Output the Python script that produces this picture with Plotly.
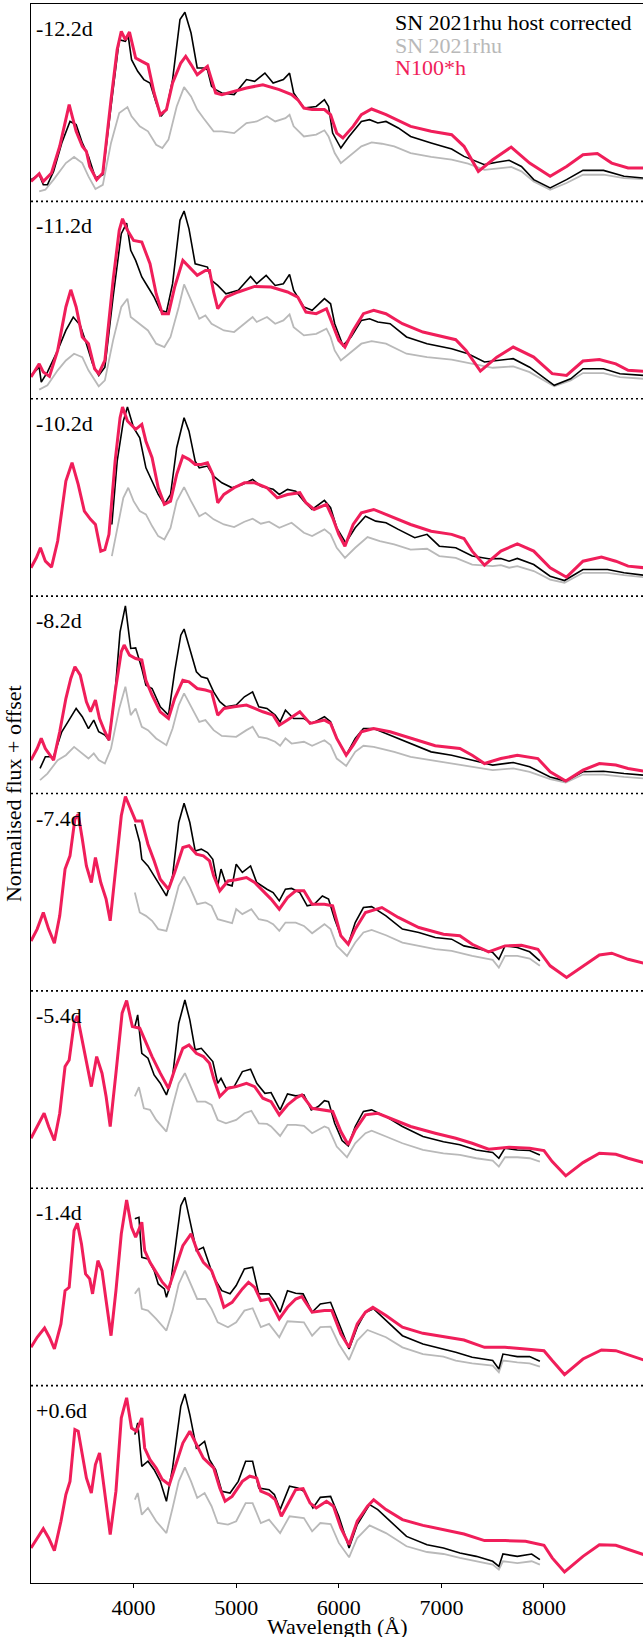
import plotly.graph_objects as go

# ---------------- data (wavelength in Angstrom, normalised flux per panel) ----------------
PHASES = ["-12.2d", "-11.2d", "-10.2d", "-8.2d", "-7.4d", "-5.4d", "-1.4d", "+0.6d"]
OFFSETS = [7, 6, 5, 4, 3, 2, 1, 0]
XTICKS = [4000, 5000, 6000, 7000, 8000]
LEGEND_LABELS = ["SN 2021rhu host corrected", "SN 2021rhu", "N100*h"]

# ---- panel 1 : -12.2d
P1_MODEL_W = [3000,3080,3120,3200,3280,3372,3440,3500,3540,3572,3640,3700,3780,3840,3880,3920,3960,4020,4080,4140,4200,4260,4320,4380,4460,4508,4560,4620,4680,4720,4760,4800,4860,4980,5100,5260,5420,5540,5600,5660,5740,5860,5920,5980,6040,6140,6220,6320,6460,6700,6900,7100,7220,7360,7500,7680,7860,8060,8220,8380,8520,8660,8820,8972]
P1_MODEL_F = [0.101,0.140,0.101,0.144,0.279,0.490,0.355,0.279,0.253,0.177,0.110,0.144,0.515,0.769,0.861,0.819,0.858,0.726,0.709,0.693,0.549,0.439,0.465,0.600,0.701,0.735,0.693,0.642,0.667,0.684,0.617,0.549,0.541,0.557,0.574,0.591,0.566,0.541,0.515,0.473,0.465,0.465,0.439,0.346,0.321,0.380,0.439,0.468,0.439,0.380,0.355,0.338,0.279,0.152,0.211,0.275,0.194,0.127,0.177,0.236,0.242,0.194,0.169,0.169]
P1_HOST_W = [3000,3080,3120,3160,3220,3300,3380,3440,3500,3560,3628,3700,3780,3860,3920,3948,3980,4040,4100,4160,4220,4268,4320,4380,4452,4500,4560,4620,4680,4720,4760,4800,4860,4980,5100,5180,5280,5360,5460,5520,5560,5660,5780,5860,5900,5940,6020,6100,6220,6300,6380,6460,6580,6700,6900,7100,7220,7420,7540,7660,7780,7900,8060,8220,8380,8580,8780,8972]
P1_HOST_F = [0.110,0.135,0.084,0.084,0.152,0.296,0.405,0.389,0.296,0.228,0.118,0.135,0.481,0.819,0.811,0.836,0.718,0.659,0.617,0.600,0.498,0.431,0.465,0.617,0.921,0.958,0.853,0.676,0.676,0.667,0.583,0.566,0.549,0.541,0.617,0.608,0.650,0.600,0.617,0.650,0.549,0.473,0.481,0.515,0.481,0.346,0.270,0.329,0.405,0.414,0.397,0.405,0.372,0.329,0.296,0.265,0.228,0.186,0.198,0.208,0.177,0.110,0.068,0.110,0.157,0.157,0.127,0.118]
P1_RAW_W = [3080,3140,3220,3340,3420,3500,3560,3628,3700,3780,3860,3940,3980,4060,4140,4220,4280,4340,4420,4492,4560,4620,4680,4780,4860,4980,5100,5200,5300,5380,5480,5520,5560,5660,5780,5860,5900,5960,6020,6100,6220,6320,6420,6540,6700,6900,7100,7260,7420,7580,7680,7780,7900,8060,8220,8380,8580,8780,8972]
P1_RAW_F = [0.051,0.059,0.110,0.194,0.225,0.194,0.127,0.063,0.084,0.296,0.448,0.478,0.431,0.380,0.355,0.287,0.270,0.313,0.481,0.579,0.532,0.465,0.422,0.355,0.355,0.346,0.397,0.405,0.431,0.405,0.422,0.439,0.380,0.329,0.338,0.360,0.329,0.245,0.194,0.228,0.279,0.299,0.292,0.279,0.245,0.225,0.211,0.191,0.160,0.169,0.174,0.152,0.101,0.059,0.093,0.135,0.135,0.118,0.113]

# ---- panel 2 : -11.2d
P2_MODEL_W = [3000,3080,3120,3180,3260,3340,3388,3440,3500,3560,3620,3660,3720,3800,3860,3892,3940,4000,4080,4160,4220,4280,4340,4400,4480,4540,4620,4700,4740,4780,4820,4900,5020,5180,5340,5500,5600,5680,5780,5880,5940,6000,6060,6140,6240,6340,6460,6620,6820,7020,7140,7240,7380,7540,7700,7900,8080,8220,8380,8540,8700,8820,8972]
P2_MODEL_F = [0.110,0.177,0.135,0.113,0.245,0.465,0.552,0.465,0.313,0.279,0.152,0.127,0.194,0.600,0.853,0.912,0.853,0.802,0.794,0.684,0.532,0.431,0.431,0.566,0.701,0.667,0.625,0.650,0.650,0.541,0.456,0.515,0.541,0.569,0.566,0.541,0.515,0.439,0.431,0.456,0.380,0.296,0.262,0.346,0.431,0.448,0.431,0.380,0.338,0.313,0.299,0.245,0.140,0.211,0.262,0.211,0.127,0.118,0.191,0.199,0.177,0.144,0.139]
P2_HOST_W = [3000,3080,3100,3160,3260,3340,3412,3480,3540,3600,3660,3720,3800,3880,3932,3972,4020,4080,4140,4200,4260,4320,4380,4452,4492,4540,4600,4660,4720,4760,4820,4900,5020,5140,5200,5292,5380,5460,5520,5560,5660,5740,5860,5920,5960,6040,6120,6220,6300,6380,6500,6660,6860,7100,7260,7420,7540,7700,7860,8100,8260,8380,8580,8740,8972]
P2_HOST_F = [0.118,0.160,0.084,0.135,0.245,0.346,0.414,0.372,0.279,0.177,0.118,0.160,0.515,0.836,0.890,0.752,0.701,0.617,0.566,0.515,0.448,0.439,0.583,0.904,0.951,0.861,0.684,0.676,0.667,0.600,0.574,0.532,0.549,0.620,0.583,0.625,0.574,0.583,0.630,0.549,0.465,0.448,0.507,0.481,0.380,0.270,0.313,0.397,0.405,0.389,0.380,0.313,0.279,0.253,0.228,0.186,0.194,0.203,0.160,0.068,0.101,0.152,0.152,0.127,0.118]
P2_RAW_W = [3080,3160,3260,3340,3420,3500,3560,3660,3720,3800,3880,3940,3972,4060,4140,4220,4300,4360,4440,4492,4560,4640,4700,4760,4880,4980,5100,5160,5200,5300,5380,5460,5520,5560,5660,5780,5880,5920,5960,6020,6100,6220,6320,6460,6660,6860,7100,7300,7500,7700,7860,8100,8260,8380,8580,8740,8972]
P2_RAW_F = [0.046,0.068,0.144,0.194,0.228,0.211,0.144,0.063,0.093,0.296,0.465,0.507,0.414,0.380,0.346,0.279,0.262,0.313,0.465,0.579,0.498,0.405,0.422,0.380,0.346,0.338,0.389,0.414,0.389,0.414,0.380,0.397,0.427,0.363,0.321,0.329,0.355,0.313,0.245,0.194,0.228,0.279,0.292,0.279,0.228,0.211,0.198,0.177,0.157,0.164,0.135,0.063,0.093,0.130,0.130,0.110,0.101]

# ---- panel 3 : -10.2d
P3_MODEL_W = [3000,3052,3092,3140,3200,3260,3340,3400,3460,3520,3580,3628,3680,3720,3760,3820,3868,3892,3940,4020,4080,4120,4180,4240,4300,4360,4420,4480,4540,4600,4660,4720,4772,4820,4880,4980,5080,5180,5300,5400,5500,5620,5680,5760,5880,5940,6000,6060,6140,6220,6340,6500,6700,6900,7100,7220,7300,7420,7580,7740,7900,8060,8220,8380,8560,8700,8820,8972]
P3_MODEL_F = [0.144,0.194,0.245,0.177,0.147,0.279,0.583,0.676,0.566,0.431,0.389,0.363,0.228,0.236,0.313,0.684,0.904,0.958,0.887,0.845,0.870,0.785,0.701,0.549,0.465,0.481,0.617,0.709,0.693,0.667,0.667,0.676,0.617,0.473,0.515,0.549,0.574,0.574,0.549,0.498,0.515,0.524,0.473,0.439,0.465,0.397,0.313,0.253,0.363,0.422,0.439,0.405,0.363,0.329,0.313,0.292,0.228,0.157,0.228,0.265,0.228,0.144,0.096,0.177,0.198,0.177,0.152,0.144]
P3_HOST_W = [3788,3840,3900,3940,4000,4060,4120,4180,4240,4300,4360,4420,4492,4540,4600,4640,4720,4780,4860,4960,5060,5160,5240,5360,5420,5500,5580,5660,5740,5860,5920,5980,6068,6160,6260,6360,6460,6580,6740,6860,6980,7140,7300,7460,7580,7660,7740,7900,8060,8200,8380,8620,8780,8972]
P3_HOST_F = [0.363,0.684,0.887,0.958,0.853,0.802,0.650,0.583,0.515,0.465,0.515,0.752,0.904,0.836,0.684,0.650,0.659,0.608,0.574,0.549,0.566,0.591,0.557,0.541,0.515,0.541,0.532,0.481,0.439,0.485,0.448,0.346,0.270,0.346,0.405,0.380,0.372,0.338,0.296,0.313,0.253,0.245,0.203,0.189,0.191,0.177,0.191,0.160,0.101,0.079,0.135,0.135,0.118,0.106]
P3_RAW_W = [3788,3840,3900,3948,4000,4060,4120,4180,4240,4300,4360,4420,4492,4560,4640,4700,4780,4880,4980,5080,5160,5240,5320,5420,5540,5660,5740,5860,5920,5980,6060,6160,6280,6400,6540,6700,6860,6980,7140,7300,7500,7580,7660,7740,7900,8060,8200,8380,8620,8780,8972]
P3_RAW_F = [0.203,0.346,0.498,0.549,0.481,0.431,0.414,0.355,0.304,0.287,0.346,0.481,0.552,0.481,0.405,0.422,0.389,0.363,0.350,0.377,0.392,0.367,0.377,0.346,0.372,0.321,0.304,0.338,0.313,0.245,0.194,0.245,0.299,0.279,0.262,0.236,0.240,0.203,0.194,0.160,0.152,0.157,0.144,0.152,0.127,0.084,0.068,0.118,0.118,0.106,0.096]

# ---- panel 4 : -8.2d
P4_MODEL_W = [3000,3060,3100,3140,3220,3280,3340,3388,3428,3480,3540,3580,3628,3668,3720,3760,3820,3880,3908,3960,4020,4080,4120,4180,4260,4340,4400,4480,4540,4620,4700,4760,4820,4880,4980,5100,5180,5260,5360,5420,5500,5620,5720,5860,5920,5980,6072,6140,6220,6340,6500,6700,6940,7180,7300,7420,7580,7740,7940,8060,8212,8380,8540,8700,8820,8972]
P4_MODEL_F = [0.169,0.228,0.279,0.228,0.169,0.313,0.481,0.583,0.642,0.600,0.465,0.414,0.473,0.380,0.313,0.270,0.515,0.718,0.752,0.701,0.684,0.676,0.574,0.498,0.414,0.380,0.481,0.574,0.566,0.532,0.524,0.515,0.397,0.431,0.439,0.448,0.431,0.414,0.397,0.346,0.372,0.414,0.355,0.372,0.355,0.279,0.194,0.245,0.313,0.329,0.313,0.279,0.242,0.228,0.194,0.152,0.177,0.194,0.177,0.110,0.063,0.118,0.152,0.144,0.127,0.113]
P4_HOST_W = [3088,3140,3220,3300,3360,3440,3500,3560,3612,3660,3720,3760,3820,3868,3920,3972,4020,4080,4120,4180,4260,4340,4400,4460,4492,4548,4612,4660,4720,4780,4840,4900,5000,5080,5160,5220,5300,5380,5428,5480,5560,5660,5740,5860,5920,5980,6072,6160,6240,6340,6500,6700,6900,7100,7300,7500,7700,7860,8060,8212,8380,8580,8780,8972]
P4_HOST_F = [0.127,0.186,0.186,0.313,0.363,0.431,0.389,0.329,0.372,0.313,0.296,0.270,0.515,0.819,0.951,0.735,0.738,0.633,0.549,0.532,0.439,0.397,0.617,0.802,0.833,0.735,0.617,0.591,0.583,0.515,0.465,0.439,0.448,0.490,0.515,0.439,0.431,0.397,0.363,0.422,0.380,0.380,0.355,0.389,0.363,0.279,0.194,0.279,0.329,0.329,0.296,0.253,0.211,0.194,0.169,0.144,0.157,0.135,0.084,0.063,0.110,0.113,0.101,0.093]
P4_RAW_W = [3088,3160,3260,3340,3420,3500,3560,3612,3660,3720,3780,3860,3920,3972,4020,4080,4140,4220,4320,4380,4440,4492,4560,4640,4700,4780,4860,5000,5100,5160,5220,5300,5380,5428,5480,5540,5660,5740,5860,5920,5980,6072,6160,6240,6340,6540,6700,6900,7100,7300,7500,7700,7860,8060,8212,8380,8580,8780,8972]
P4_RAW_F = [0.068,0.101,0.169,0.194,0.236,0.203,0.177,0.203,0.169,0.152,0.228,0.431,0.541,0.397,0.431,0.338,0.321,0.279,0.245,0.329,0.448,0.507,0.439,0.363,0.372,0.321,0.292,0.287,0.321,0.338,0.287,0.279,0.262,0.242,0.279,0.253,0.262,0.242,0.270,0.245,0.177,0.140,0.211,0.242,0.236,0.211,0.186,0.169,0.152,0.135,0.118,0.127,0.110,0.073,0.056,0.096,0.096,0.084,0.076]

# ---- panel 5 : -7.4d
P5_MODEL_W = [3000,3060,3120,3172,3228,3280,3332,3380,3428,3460,3500,3540,3588,3628,3680,3732,3772,3828,3880,3920,3980,4020,4080,4140,4200,4260,4340,4400,4480,4540,4612,4680,4740,4780,4840,4920,5000,5100,5180,5260,5340,5420,5500,5580,5660,5740,5860,5940,6020,6092,6160,6260,6420,6580,6780,7020,7180,7300,7460,7620,7780,7940,8060,8220,8380,8540,8660,8820,8972]
P5_MODEL_F = [0.253,0.313,0.397,0.313,0.242,0.380,0.617,0.684,0.870,0.895,0.769,0.633,0.549,0.676,0.549,0.465,0.355,0.633,0.887,0.985,0.912,0.861,0.861,0.743,0.659,0.566,0.515,0.600,0.726,0.735,0.693,0.684,0.659,0.583,0.507,0.557,0.563,0.574,0.549,0.507,0.465,0.414,0.473,0.507,0.507,0.439,0.439,0.431,0.279,0.236,0.313,0.397,0.422,0.372,0.321,0.287,0.279,0.236,0.198,0.228,0.231,0.211,0.127,0.068,0.127,0.182,0.191,0.160,0.140]
P5_HOST_W = [4012,4060,4080,4140,4200,4260,4320,4380,4440,4492,4548,4600,4660,4720,4772,4820,4852,4900,4960,5000,5060,5140,5200,5300,5360,5420,5480,5540,5620,5692,5760,5840,5900,5960,6020,6092,6160,6240,6320,6460,6620,6780,6940,7100,7220,7380,7500,7560,7620,7740,7860,7960]
P5_HOST_F = [0.845,0.752,0.667,0.633,0.583,0.532,0.481,0.583,0.853,0.951,0.853,0.709,0.718,0.701,0.667,0.532,0.617,0.541,0.532,0.642,0.600,0.633,0.549,0.515,0.498,0.456,0.515,0.519,0.498,0.431,0.439,0.481,0.465,0.363,0.279,0.236,0.346,0.422,0.427,0.380,0.313,0.296,0.270,0.262,0.228,0.211,0.194,0.160,0.228,0.220,0.198,0.152]
P5_RAW_W = [4012,4060,4120,4180,4240,4320,4380,4440,4492,4548,4620,4700,4760,4820,4880,4960,5000,5060,5148,5220,5300,5360,5420,5480,5580,5660,5740,5860,5920,5980,6080,6160,6240,6320,6460,6620,6780,6940,7100,7300,7500,7560,7620,7740,7860,7960]
P5_RAW_F = [0.498,0.397,0.380,0.355,0.313,0.304,0.414,0.532,0.579,0.524,0.439,0.448,0.431,0.363,0.355,0.343,0.414,0.389,0.414,0.363,0.355,0.338,0.304,0.346,0.346,0.329,0.292,0.338,0.313,0.228,0.177,0.245,0.296,0.309,0.282,0.245,0.228,0.211,0.203,0.177,0.157,0.118,0.177,0.177,0.164,0.127]

# ---- panel 6 : -5.4d
P6_MODEL_W = [3000,3060,3128,3172,3228,3280,3332,3372,3420,3452,3492,3540,3588,3640,3692,3732,3772,3828,3888,3932,3988,4060,4120,4180,4260,4340,4400,4480,4540,4612,4680,4740,4780,4840,4920,5000,5100,5180,5260,5340,5420,5500,5580,5640,5740,5860,5940,6020,6092,6160,6260,6380,6540,6700,6940,7140,7300,7460,7660,7860,8000,8080,8212,8380,8540,8700,8820,8972]
P6_MODEL_F = [0.253,0.313,0.380,0.313,0.242,0.380,0.617,0.650,0.836,0.873,0.769,0.633,0.515,0.667,0.583,0.465,0.313,0.583,0.887,0.951,0.819,0.811,0.735,0.667,0.583,0.507,0.600,0.709,0.726,0.684,0.667,0.633,0.557,0.465,0.507,0.515,0.532,0.515,0.456,0.439,0.372,0.422,0.456,0.473,0.405,0.397,0.389,0.287,0.220,0.296,0.372,0.380,0.346,0.313,0.279,0.253,0.228,0.198,0.208,0.203,0.191,0.135,0.063,0.130,0.177,0.172,0.152,0.130]
P6_HOST_W = [4012,4040,4080,4140,4200,4260,4320,4380,4440,4500,4548,4600,4660,4720,4772,4820,4852,4900,4980,5060,5140,5200,5280,5340,5428,5500,5580,5660,5732,5800,5860,5900,5960,6032,6092,6160,6240,6320,6460,6620,6820,7020,7180,7340,7500,7560,7620,7740,7860,7960]
P6_HOST_F = [0.819,0.878,0.684,0.659,0.574,0.532,0.473,0.566,0.836,0.954,0.853,0.701,0.709,0.676,0.642,0.532,0.557,0.507,0.515,0.591,0.603,0.532,0.481,0.485,0.397,0.478,0.468,0.473,0.397,0.414,0.444,0.439,0.329,0.242,0.215,0.313,0.389,0.397,0.363,0.313,0.262,0.236,0.220,0.194,0.181,0.152,0.203,0.194,0.191,0.169]
P6_RAW_W = [4012,4052,4100,4160,4220,4320,4380,4440,4500,4560,4620,4700,4760,4820,4900,5000,5080,5148,5220,5300,5340,5428,5500,5580,5660,5740,5860,5900,5980,6080,6160,6260,6320,6460,6620,6820,7020,7180,7340,7500,7560,7620,7740,7860,7960]
P6_RAW_F = [0.465,0.512,0.405,0.397,0.346,0.287,0.414,0.532,0.583,0.515,0.439,0.439,0.422,0.346,0.329,0.346,0.380,0.392,0.329,0.326,0.313,0.265,0.321,0.321,0.316,0.279,0.313,0.304,0.211,0.157,0.228,0.279,0.292,0.262,0.228,0.194,0.177,0.169,0.152,0.140,0.110,0.157,0.157,0.152,0.135]

# ---- panel 7 : -1.4d
P7_MODEL_W = [3000,3060,3132,3180,3228,3292,3332,3372,3420,3452,3492,3532,3572,3600,3652,3692,3732,3780,3828,3880,3932,3980,4020,4080,4108,4160,4220,4280,4340,4400,4480,4560,4620,4680,4760,4820,4880,4960,5060,5120,5180,5240,5320,5420,5500,5580,5640,5740,5860,5932,6020,6100,6180,6260,6332,6460,6620,6820,7020,7220,7420,7620,7820,8000,8080,8200,8380,8560,8700,8820,8972]
P7_MODEL_F = [0.194,0.245,0.292,0.245,0.186,0.313,0.481,0.498,0.785,0.823,0.718,0.566,0.541,0.465,0.633,0.583,0.431,0.253,0.481,0.769,0.941,0.802,0.752,0.828,0.684,0.625,0.574,0.524,0.490,0.583,0.709,0.769,0.684,0.625,0.583,0.498,0.397,0.422,0.490,0.524,0.498,0.431,0.439,0.338,0.397,0.439,0.451,0.372,0.380,0.380,0.262,0.194,0.313,0.372,0.397,0.355,0.296,0.265,0.248,0.231,0.194,0.194,0.186,0.177,0.127,0.056,0.135,0.181,0.177,0.157,0.130]
P7_HOST_W = [4012,4052,4080,4140,4200,4240,4300,4320,4360,4400,4460,4500,4548,4612,4680,4720,4780,4860,4940,5000,5080,5160,5220,5320,5380,5428,5500,5580,5652,5740,5820,5920,6000,6100,6180,6260,6340,6460,6620,6820,7020,7140,7300,7500,7560,7600,7740,7860,7960]
P7_HOST_F = [0.845,0.853,0.650,0.642,0.583,0.515,0.490,0.448,0.515,0.684,0.912,0.954,0.836,0.684,0.701,0.642,0.549,0.481,0.465,0.507,0.591,0.600,0.465,0.465,0.422,0.372,0.481,0.468,0.465,0.372,0.414,0.422,0.313,0.186,0.296,0.372,0.389,0.329,0.253,0.211,0.186,0.169,0.144,0.127,0.084,0.160,0.147,0.147,0.123]
P7_RAW_W = [4012,4052,4080,4140,4220,4320,4380,4440,4500,4560,4620,4700,4760,4820,4920,5000,5080,5160,5240,5320,5420,5500,5600,5660,5740,5820,5920,6000,6100,6180,6280,6460,6620,6820,7020,7140,7300,7500,7560,7600,7740,7860,7960]
P7_RAW_F = [0.465,0.495,0.389,0.380,0.338,0.279,0.380,0.515,0.583,0.515,0.439,0.439,0.389,0.321,0.296,0.321,0.380,0.392,0.296,0.313,0.245,0.326,0.321,0.321,0.253,0.296,0.299,0.211,0.130,0.228,0.282,0.245,0.194,0.160,0.147,0.127,0.113,0.101,0.068,0.127,0.118,0.113,0.096]

# ---- panel 8 : +0.6d
P8_MODEL_W = [3000,3060,3120,3172,3228,3292,3340,3380,3428,3460,3500,3540,3588,3628,3668,3720,3772,3828,3880,3932,3980,4028,4080,4108,4160,4220,4280,4348,4400,4480,4548,4620,4680,4780,4840,4892,4960,5060,5132,5200,5240,5320,5380,5440,5520,5580,5652,5720,5780,5880,5948,6020,6100,6180,6280,6340,6460,6620,6820,7020,7220,7420,7620,7820,8000,8080,8200,8380,8540,8700,8820,8972]
P8_MODEL_F = [0.177,0.228,0.275,0.228,0.164,0.313,0.448,0.515,0.777,0.769,0.659,0.532,0.456,0.600,0.659,0.465,0.245,0.465,0.836,0.938,0.785,0.769,0.836,0.684,0.625,0.583,0.524,0.498,0.583,0.709,0.769,0.693,0.633,0.583,0.481,0.414,0.439,0.515,0.541,0.532,0.465,0.448,0.422,0.338,0.414,0.473,0.478,0.405,0.380,0.414,0.389,0.279,0.194,0.313,0.389,0.422,0.372,0.321,0.292,0.270,0.248,0.215,0.215,0.211,0.191,0.127,0.056,0.135,0.194,0.191,0.169,0.144]
P8_HOST_W = [4012,4040,4080,4140,4200,4260,4320,4380,4460,4500,4548,4612,4692,4740,4800,4860,4940,5020,5092,5160,5220,5320,5372,5428,5520,5600,5660,5748,5820,5920,6000,6100,6180,6300,6380,6500,6660,6860,7020,7180,7340,7500,7560,7600,7740,7880,7960]
P8_HOST_F = [0.752,0.811,0.591,0.617,0.574,0.515,0.414,0.583,0.895,0.958,0.853,0.684,0.718,0.625,0.574,0.465,0.456,0.515,0.617,0.617,0.481,0.473,0.448,0.372,0.490,0.481,0.465,0.380,0.434,0.439,0.338,0.177,0.296,0.397,0.372,0.313,0.236,0.194,0.177,0.152,0.135,0.110,0.084,0.147,0.135,0.147,0.118]
P8_RAW_W = [4012,4040,4080,4140,4220,4320,4380,4440,4500,4560,4620,4692,4760,4820,4920,5000,5092,5160,5240,5320,5428,5520,5660,5740,5820,5920,6000,6100,6180,6300,6460,6660,6860,7020,7180,7340,7500,7560,7600,7740,7880,7960]
P8_RAW_F = [0.422,0.456,0.346,0.380,0.313,0.253,0.380,0.515,0.586,0.515,0.431,0.456,0.389,0.304,0.296,0.313,0.405,0.405,0.304,0.321,0.253,0.338,0.329,0.262,0.304,0.299,0.203,0.130,0.228,0.292,0.253,0.186,0.157,0.147,0.127,0.110,0.093,0.068,0.110,0.101,0.110,0.093]

MODEL = [(P1_MODEL_W, P1_MODEL_F), (P2_MODEL_W, P2_MODEL_F), (P3_MODEL_W, P3_MODEL_F), (P4_MODEL_W, P4_MODEL_F),
         (P5_MODEL_W, P5_MODEL_F), (P6_MODEL_W, P6_MODEL_F), (P7_MODEL_W, P7_MODEL_F), (P8_MODEL_W, P8_MODEL_F)]
HOST = [(P1_HOST_W, P1_HOST_F), (P2_HOST_W, P2_HOST_F), (P3_HOST_W, P3_HOST_F), (P4_HOST_W, P4_HOST_F),
        (P5_HOST_W, P5_HOST_F), (P6_HOST_W, P6_HOST_F), (P7_HOST_W, P7_HOST_F), (P8_HOST_W, P8_HOST_F)]
RAW = [(P1_RAW_W, P1_RAW_F), (P2_RAW_W, P2_RAW_F), (P3_RAW_W, P3_RAW_F), (P4_RAW_W, P4_RAW_F),
       (P5_RAW_W, P5_RAW_F), (P6_RAW_W, P6_RAW_F), (P7_RAW_W, P7_RAW_F), (P8_RAW_W, P8_RAW_F)]

# ---------------- styling ----------------
FONT = "Liberation Serif"
FS = 22
C_HOST = "#000000"
C_RAW = "#b9b9b9"
C_MODEL = "#f01e5a"

fig = go.Figure()
for i, off in enumerate(OFFSETS):
    rw, rf = RAW[i]
    hw, hf = HOST[i]
    mw, mf = MODEL[i]
    fig.add_trace(go.Scatter(x=rw, y=[v + off for v in rf], mode="lines",
                             line=dict(color=C_RAW, width=1.8), showlegend=False, hoverinfo="skip"))
    fig.add_trace(go.Scatter(x=hw, y=[v + off for v in hf], mode="lines",
                             line=dict(color=C_HOST, width=1.6), showlegend=False, hoverinfo="skip"))
    fig.add_trace(go.Scatter(x=mw, y=[v + off for v in mf], mode="lines",
                             line=dict(color=C_MODEL, width=3), showlegend=False, hoverinfo="skip"))
    # phase label
    fig.add_annotation(x=0, xref="paper", y=off + 1, yref="y", text=PHASES[i], showarrow=False,
                       xanchor="left", yanchor="top", xshift=3, yshift=-10,
                       font=dict(family=FONT, size=FS, color="black"))
    # dotted separator
    if off > 0:
        fig.add_shape(type="line", xref="paper", x0=0, x1=1, yref="y", y0=off, y1=off,
                      line=dict(color="black", width=1.6, dash="2px,3px"))

# legend as coloured text
for j, (lab, col) in enumerate(zip(LEGEND_LABELS, [C_HOST, C_RAW, C_MODEL])):
    fig.add_annotation(x=0.5915, xref="paper", y=1, yref="paper", text=lab, showarrow=False,
                       xanchor="left", yanchor="top", yshift=-4 - 22.5 * j,
                       font=dict(family=FONT, size=FS, color=col))

# axis titles
fig.add_annotation(x=0.5, xref="paper", y=0, yref="paper", text="Wavelength (Å)", showarrow=False,
                   xanchor="center", yanchor="top", yshift=-29,
                   font=dict(family=FONT, size=FS, color="black"))
fig.add_annotation(x=-0.0285, xref="paper", y=0.5, yref="paper", text="Normalised flux + offset",
                   showarrow=False, textangle=-90, xanchor="center", yanchor="middle",
                   font=dict(family=FONT, size=FS, color="black"))

fig.update_layout(
    width=643, height=1637,
    margin=dict(l=31, r=0, t=4, b=54),
    paper_bgcolor="white", plot_bgcolor="white",
    showlegend=False,
    font=dict(family=FONT, size=FS, color="black"),
)
fig.update_xaxes(range=[3000, 8965], showline=True, mirror=True, linecolor="black", linewidth=1.3,
                 ticks="outside", ticklen=4, tickwidth=1.3, tickcolor="black",
                 tickvals=XTICKS, ticktext=[str(t) for t in XTICKS],
                 showgrid=False, zeroline=False,
                 tickfont=dict(family=FONT, size=FS, color="black"))
fig.update_yaxes(range=[0, 8], showline=True, mirror=False, linecolor="black", linewidth=1.3,
                 showticklabels=False, ticks="", showgrid=False, zeroline=False)

fig.write_html("out.html")
